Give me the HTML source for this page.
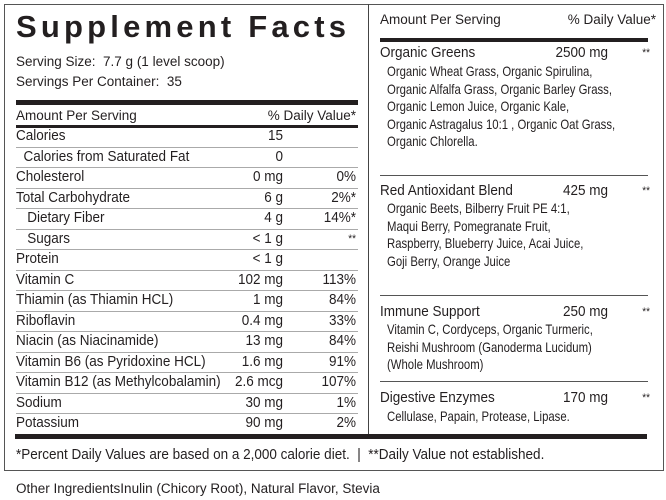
<!DOCTYPE html>
<html><head><meta charset="utf-8"><style>
body{margin:0;width:666px;height:500px;background:#fff;position:relative;overflow:hidden;color:#231f20}
.a{position:absolute;white-space:nowrap;line-height:18px}
.n{font-family:"Liberation Sans",sans-serif;font-size:15px;transform:scaleX(.9);transform-origin:left center}
.n.r{transform-origin:right center}
.sub{font-size:14px;transform:scaleX(.81)}
.s{font-family:"Liberation Sans",sans-serif;font-size:13.5px}
.r{text-align:right}
.ln{position:absolute;background:#231f20}
.lg{position:absolute;background:#aaa;height:1px}
</style></head><body>
<div style="position:absolute;left:4px;top:4px;width:658px;height:465px;border:1px solid #555"></div>
<div class="ln" style="left:368px;top:4px;width:1px;height:430px;background:#444"></div>
<div class="a" style="left:16px;top:9px;font-family:'Liberation Sans',sans-serif;font-weight:bold;font-size:31px;line-height:36px;letter-spacing:4.2px">Supplement Facts</div>
<div class="a s" style="left:16px;top:53px">Serving Size:&nbsp; 7.7 g (1 level scoop)</div>
<div class="a s" style="left:16px;top:73px">Servings Per Container:&nbsp; 35</div>
<div class="ln" style="left:16px;top:100px;width:342px;height:5px"></div>
<div class="a s" style="left:16px;top:107px">Amount Per Serving</div>
<div class="a s r" style="left:200px;width:156px;top:107px">% Daily Value*</div>
<div class="ln" style="left:16px;top:125px;width:342px;height:3px"></div>
<div id="rows"></div>
<div class="ln" style="left:15px;top:434px;width:632px;height:5px"></div>
<div class="a n" style="left:16px;top:446px">*Percent Daily Values are based on a 2,000 calorie diet.&nbsp; |&nbsp; **Daily Value not established.</div>
<div class="a s" style="left:16px;top:480px">Other IngredientsInulin (Chicory Root), Natural Flavor, Stevia</div>

<div class="a s" style="left:380px;top:11px">Amount Per Serving</div>
<div class="a s r" style="left:500px;width:156px;top:11px">% Daily Value*</div>
<div class="ln" style="left:380px;top:38px;width:268px;height:4px"></div>

<div class="a n" style="left:380px;top:44px">Organic Greens</div><div class="a n r" style="left:520px;width:88px;top:44px">2500 mg</div><div class="a n r" style="left:620px;width:30px;top:44px;font-size:11px">**</div>
<div class="a n sub" style="left:387px;top:63px;line-height:17.5px">Organic Wheat Grass, Organic Spirulina,<br>Organic Alfalfa Grass, Organic Barley Grass,<br>Organic Lemon Juice, Organic Kale,<br>Organic Astragalus 10:1 , Organic Oat Grass,<br>Organic Chlorella.</div>
<div class="ln" style="left:380px;top:175px;width:268px;height:1px;background:#555"></div>

<div class="a n" style="left:380px;top:182px">Red Antioxidant Blend</div><div class="a n r" style="left:520px;width:88px;top:182px">425 mg</div><div class="a n r" style="left:620px;width:30px;top:182px;font-size:11px">**</div>
<div class="a n sub" style="left:387px;top:200px;line-height:17.7px">Organic Beets, Bilberry Fruit PE 4:1,<br>Maqui Berry, Pomegranate Fruit,<br>Raspberry, Blueberry Juice, Acai Juice,<br>Goji Berry, Orange Juice</div>
<div class="ln" style="left:380px;top:295px;width:268px;height:1px;background:#555"></div>

<div class="a n" style="left:380px;top:303px">Immune Support</div><div class="a n r" style="left:520px;width:88px;top:303px">250 mg</div><div class="a n r" style="left:620px;width:30px;top:303px;font-size:11px">**</div>
<div class="a n sub" style="left:387px;top:321px;line-height:17.5px">Vitamin C, Cordyceps, Organic Turmeric,<br>Reishi Mushroom (Ganoderma Lucidum)<br>(Whole Mushroom)</div>
<div class="ln" style="left:380px;top:381px;width:268px;height:1px;background:#555"></div>

<div class="a n" style="left:380px;top:389px">Digestive Enzymes</div><div class="a n r" style="left:520px;width:88px;top:389px">170 mg</div><div class="a n r" style="left:620px;width:30px;top:389px;font-size:11px">**</div>
<div class="a n sub" style="left:387px;top:407px">Cellulase, Papain, Protease, Lipase.</div>

<script>
var d=[["Calories","15",""],["&nbsp;&nbsp;Calories from Saturated Fat","0",""],["Cholesterol","0 mg","0%"],["Total Carbohydrate","6 g","2%*"],["&nbsp;&nbsp;&nbsp;Dietary Fiber","4 g","14%*"],["&nbsp;&nbsp;&nbsp;Sugars","&lt; 1 g","**"],["Protein","&lt; 1 g",""],["Vitamin C","102 mg","113%"],["Thiamin (as Thiamin HCL)","1 mg","84%"],["Riboflavin","0.4 mg","33%"],["Niacin (as Niacinamide)","13 mg","84%"],["Vitamin B6 (as Pyridoxine HCL)","1.6 mg","91%"],["Vitamin B12 (as Methylcobalamin)","2.6 mcg","107%"],["Sodium","30 mg","1%"],["Potassium","90 mg","2%"]];
var h="";for(var i=0;i<d.length;i++){var t=127+i*20.5;
h+='<div class="a n" style="left:16px;top:'+t+'px">'+d[i][0]+'</div>';
h+='<div class="a n r" style="left:200px;width:83px;top:'+t+'px">'+d[i][1]+'</div>';
h+='<div class="a n r" style="left:290px;width:66px;top:'+t+'px'+(d[i][2]=="**"?';font-size:11px':'')+'">'+d[i][2]+'</div>';
if(i<d.length-1)h+='<div class="lg" style="left:16px;width:342px;top:'+(t+19.5)+'px"></div>';}
document.getElementById("rows").innerHTML=h;
</script>
</body></html>
